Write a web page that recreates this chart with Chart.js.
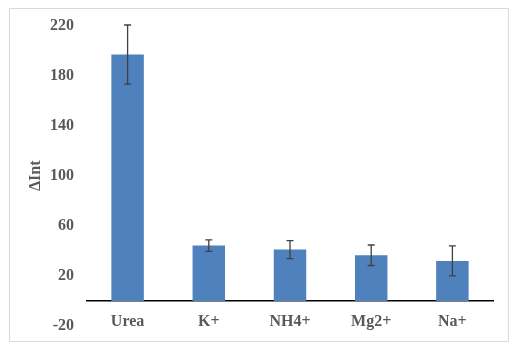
<!DOCTYPE html>
<html>
<head>
<meta charset="utf-8">
<script src="https://cdn.jsdelivr.net/npm/chart.js@4"></script>
<style>
  body { margin: 0; background: #fff; }
  #box {
    position: absolute;
    left: 9px;
    top: 8px;
    width: 498px;
    height: 332px;
    border: 1px solid #d9d9d9;
  }
</style>
</head>
<body>
<div id="box"><canvas id="grafico" width="498" height="332"></canvas></div>
<script>
// dados
const categorias = ["Urea", "K+", "NH4+", "Mg2+", "Na+"];
const valores = [196.8, 44.2, 41, 36.5, 32];
const erros = [23.6, 4.6, 7.2, 8.2, 12];
const yTicks = [-20, 20, 60, 100, 140, 180, 220];

const corTexto = "#595959";
const fonteEixo = { family: "'Liberation Serif', 'Times New Roman', serif", size: 16, weight: "bold" };

// barras de erro
const errorBarsPlugin = {
  id: "errorBars",
  afterDatasetsDraw(chart) {
    const ctx = chart.ctx;
    const y = chart.scales.y;
    const meta = chart.getDatasetMeta(0);
    ctx.save();
    ctx.strokeStyle = "#404040";
    ctx.lineWidth = 1.3;
    meta.data.forEach((bar, i) => {
      const top = y.getPixelForValue(valores[i] + erros[i]);
      const bot = y.getPixelForValue(valores[i] - erros[i]);
      const x = bar.x;
      ctx.beginPath();
      ctx.moveTo(x, top);
      ctx.lineTo(x, bot);
      ctx.moveTo(x - 3.5, top);
      ctx.lineTo(x + 3.5, top);
      ctx.moveTo(x - 3.5, bot);
      ctx.lineTo(x + 3.5, bot);
      ctx.stroke();
    });
    ctx.restore();
  },
};

new Chart(document.getElementById("grafico"), {
  type: "bar",
  data: {
    labels: categorias,
    datasets: [
      {
        data: valores,
        backgroundColor: "#4f81bd",
        borderColor: "#4f81bd",
        borderWidth: 0,
        categoryPercentage: 1,
        barPercentage: 0.4,
      },
    ],
  },
  options: {
    responsive: false,
    animation: false,
    layout: {
      padding: { top: 16.5, bottom: 15, right: 15, left: 0 },
    },
    plugins: {
      legend: { display: false },
      tooltip: { enabled: false },
    },
    scales: {
      x: {
        position: { y: 0 },
        grid: { display: false, drawTicks: false },
        border: { display: true, color: "#000", width: 1.5 },
        ticks: { color: corTexto, font: fonteEixo, padding: 11 },
      },
      y: {
        min: -20,
        max: 220,
        afterBuildTicks: (scale) => {
          scale.ticks = yTicks.map((v) => ({ value: v }));
        },
        afterFit: (scale) => {
          scale.width = 77;
          scale.paddingTop = 0;
          scale.paddingBottom = 0;
        },
        grid: { display: false, drawTicks: false },
        border: { display: false },
        ticks: { color: corTexto, font: fonteEixo, padding: 13 },
        title: {
          display: true,
          text: "ΔInt",
          color: corTexto,
          font: { family: "'Liberation Serif', 'Times New Roman', serif", size: 16, weight: "bold" },
          padding: { top: 16, bottom: 0 },
        },
      },
    },
  },
  plugins: [errorBarsPlugin],
});
</script>
</body>
</html>
